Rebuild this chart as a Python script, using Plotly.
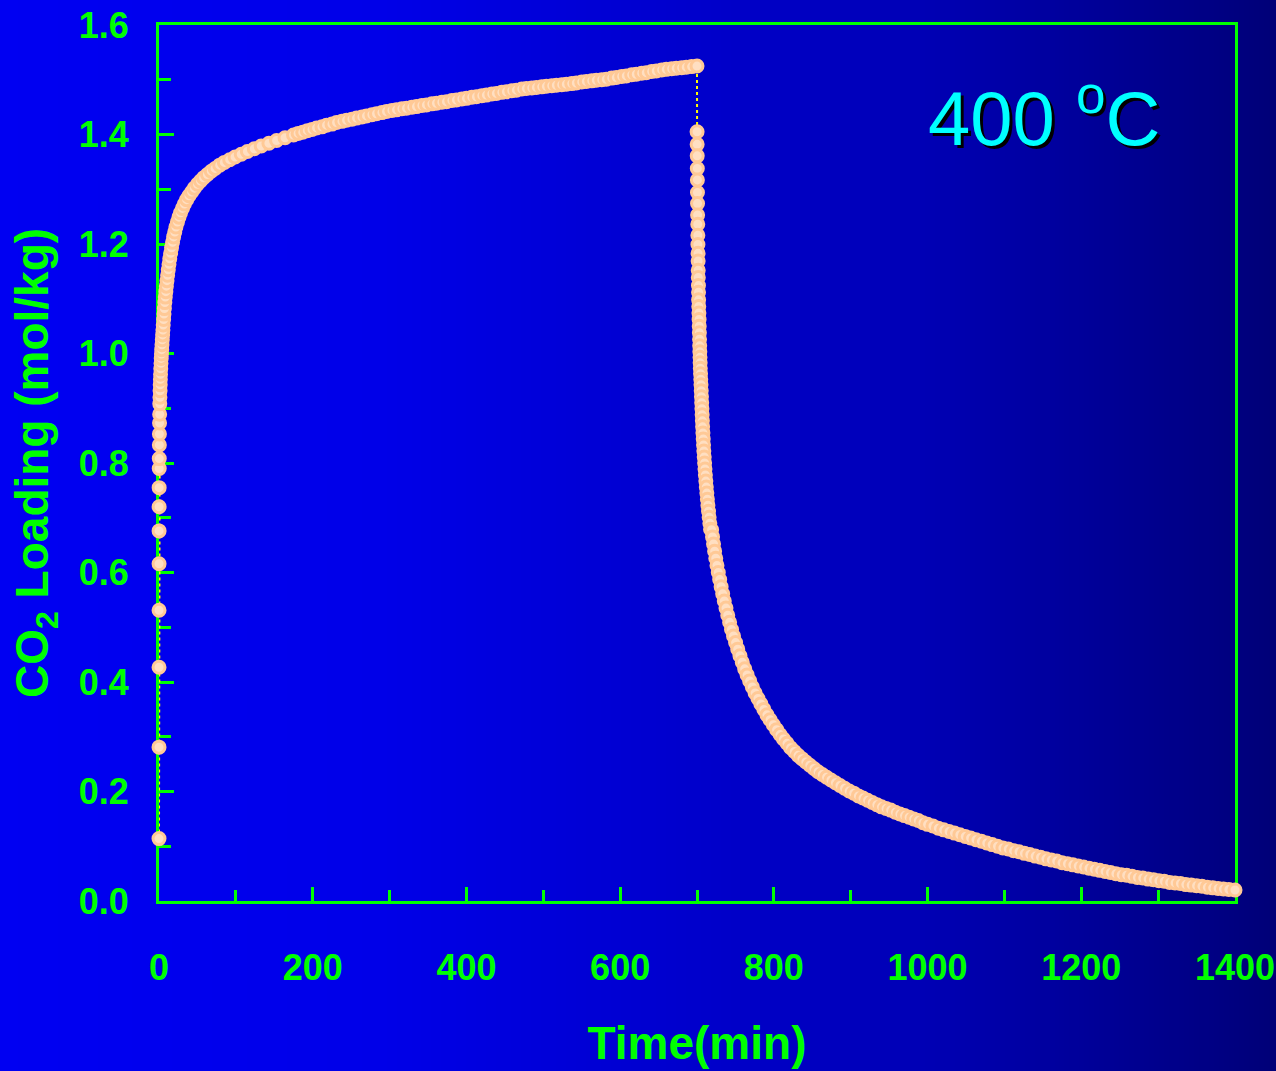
import plotly.graph_objects as go
import zlib, struct, base64

# ---------------- data ----------------
ads_time = [0, 0.02, 0.04, 0.06, 0.08, 0.1, 0.15, 0.2, 0.3, 0.35, 0.45, 0.55, 0.7, 0.85, 1.0,
            1.2, 1.4, 1.6, 1.8, 2.0, 2.3, 2.6, 2.9, 3.2, 3.5, 3.9, 4.3, 4.7, 5.1, 5.5, 6.0, 6.5,
            7.0, 7.6, 8.2, 8.9, 9.6, 10.4, 11.2, 12.1, 13.0, 14.0, 15.1, 16.3, 17.6, 19, 20.5,
            22, 24, 26, 28, 30.5, 33, 36, 39, 42.5, 46, 50, 54, 58, 63, 68, 73, 79, 85, 92, 99,
            107, 115, 124, 133, 143, 153, 164, 175, 181, 187, 193, 199, 205, 212, 218, 225, 231,
            238, 244, 251, 257, 264, 270, 277, 283, 290, 296, 303, 309, 316, 322, 329, 335, 342,
            348, 355, 361, 368, 374, 381, 387, 394, 400, 407, 413, 420, 426, 433, 439, 446, 452,
            459, 465, 472, 478, 485, 491, 498, 504, 511, 517, 524, 530, 537, 543, 550, 556, 563,
            569, 576, 582, 589, 595, 602, 608, 615, 621, 628, 634, 641, 647, 654, 660, 667, 673,
            680, 686, 693, 700]
ads_load = [0.114, 0.281, 0.427, 0.531, 0.616, 0.676, 0.720, 0.755, 0.790, 0.808, 0.833, 0.853,
            0.873, 0.889, 0.908, 0.920, 0.932, 0.943, 0.953, 0.962, 0.972, 0.982, 0.991, 0.999,
            1.007, 1.016, 1.025, 1.034, 1.043, 1.052, 1.062, 1.072, 1.082, 1.093, 1.103, 1.113,
            1.123, 1.133, 1.143, 1.153, 1.163, 1.173, 1.183, 1.193, 1.203, 1.213, 1.222, 1.231,
            1.240, 1.249, 1.257, 1.265, 1.273, 1.281, 1.288, 1.295, 1.302, 1.309, 1.315, 1.321,
            1.327, 1.333, 1.338, 1.344, 1.349, 1.354, 1.359, 1.364, 1.369, 1.374, 1.379, 1.384,
            1.389, 1.394, 1.399, 1.402, 1.404, 1.407, 1.409, 1.412, 1.414, 1.417, 1.419, 1.422,
            1.424, 1.426, 1.428, 1.430, 1.432, 1.434, 1.436, 1.438, 1.440, 1.442, 1.444, 1.445,
            1.447, 1.448, 1.450, 1.451, 1.453, 1.454, 1.456, 1.457, 1.459, 1.460, 1.462, 1.463,
            1.465, 1.466, 1.468, 1.469, 1.471, 1.472, 1.474, 1.475, 1.477, 1.478, 1.480, 1.481,
            1.483, 1.484, 1.485, 1.486, 1.487, 1.488, 1.489, 1.490, 1.491, 1.492, 1.493, 1.494,
            1.496, 1.497, 1.498, 1.499, 1.500, 1.501, 1.503, 1.504, 1.506, 1.507, 1.509, 1.510,
            1.512, 1.513, 1.515, 1.516, 1.518, 1.519, 1.520, 1.521, 1.522, 1.523, 1.524, 1.525]

des_time = [700.1, 700.2, 700.3, 700.4, 700.5, 700.6, 700.7, 700.8, 701.0, 701.1, 701.2, 701.4,
            701.5, 701.6, 701.7, 701.9, 702.0, 702.1, 702.3, 702.5, 702.7, 702.9, 703.1, 703.3,
            703.5, 703.7, 703.9, 704.1, 704.3, 704.6, 704.9, 705.2, 705.5, 705.8, 706.1, 706.4,
            706.7, 707.0, 707.3, 707.7, 708.1, 708.5, 708.9, 709.4, 709.9, 710.4, 710.9, 711.5,
            712.1, 712.8, 713.5, 714.2, 715.0, 715.8, 716.7, 717.6, 719.0, 720.2, 721.5, 722.9,
            724.4, 726.0, 727.7, 729.5, 731.4, 733.4, 735.5, 737.7, 740.0, 742.4, 744.9, 747.5,
            750.2, 753.0, 755.9, 758.9, 762.0, 765.2, 768.5, 772, 775.6, 779.3, 783.1, 787, 791,
            795.1, 799.3, 803.6, 808, 812.5, 817.1, 821.8, 826.6, 831.5, 836.5, 841.6, 846.8,
            852.1, 857.5, 863, 868.6, 874.3, 880.1, 886, 892, 898, 904, 910, 916, 922, 928, 934,
            940, 946, 952, 958, 964, 970, 976, 982, 988, 994, 1000, 1007, 1014, 1021, 1028, 1035,
            1042, 1049, 1056, 1063, 1070, 1077, 1084, 1091, 1098, 1105, 1112, 1119, 1126, 1133,
            1140, 1147, 1154, 1161, 1168, 1175, 1182, 1189, 1196, 1203, 1210, 1217, 1224, 1231,
            1238, 1245, 1252, 1259, 1266, 1273, 1280, 1287, 1294, 1301, 1308, 1315, 1322, 1329,
            1336, 1343, 1350, 1357, 1364, 1371, 1378, 1385, 1392, 1400]
des_load = [1.405, 1.382, 1.361, 1.338, 1.317, 1.294, 1.274, 1.253, 1.236, 1.216, 1.199, 1.183,
            1.169, 1.152, 1.139, 1.124, 1.112, 1.098, 1.086, 1.074, 1.062, 1.050, 1.038, 1.026,
            1.014, 1.003, 0.993, 0.983, 0.973, 0.963, 0.953, 0.943, 0.932, 0.921, 0.910, 0.899,
            0.888, 0.877, 0.866, 0.855, 0.844, 0.833, 0.822, 0.811, 0.800, 0.789, 0.778, 0.767,
            0.756, 0.745, 0.734, 0.723, 0.712, 0.701, 0.690, 0.679, 0.678, 0.665, 0.652, 0.639,
            0.626, 0.613, 0.600, 0.587, 0.574, 0.561, 0.548, 0.535, 0.522, 0.509, 0.496, 0.484,
            0.472, 0.460, 0.448, 0.436, 0.424, 0.413, 0.402, 0.391, 0.380, 0.370, 0.360, 0.350,
            0.340, 0.331, 0.322, 0.313, 0.304, 0.296, 0.288, 0.280, 0.273, 0.266, 0.260, 0.254,
            0.248, 0.242, 0.236, 0.231, 0.226, 0.221, 0.216, 0.211, 0.206, 0.201, 0.197, 0.192,
            0.188, 0.184, 0.180, 0.176, 0.172, 0.169, 0.166, 0.162, 0.159, 0.156, 0.153, 0.150,
            0.147, 0.143, 0.140, 0.137, 0.133, 0.130, 0.127, 0.124, 0.121, 0.118, 0.115, 0.112,
            0.109, 0.106, 0.103, 0.100, 0.097, 0.095, 0.092, 0.090, 0.087, 0.085, 0.082, 0.080,
            0.077, 0.075, 0.073, 0.070, 0.068, 0.066, 0.064, 0.062, 0.060, 0.058, 0.056, 0.054,
            0.052, 0.050, 0.048, 0.047, 0.045, 0.043, 0.042, 0.040, 0.039, 0.037, 0.036, 0.034,
            0.033, 0.032, 0.030, 0.029, 0.028, 0.027, 0.025, 0.024, 0.023, 0.022, 0.021, 0.020]

x_tickvals = [0, 200, 400, 600, 800, 1000, 1200, 1400]
y_tickvals = [0.0, 0.2, 0.4, 0.6, 0.8, 1.0, 1.2, 1.4, 1.6]
y_ticktext = ["0.0", "0.2", "0.4", "0.6", "0.8", "1.0", "1.2", "1.4", "1.6"]

time_min = ads_time + des_time
loading = ads_load + des_load

# ---------------- background gradient image ----------------
W, H = 1276, 1071
L, R, T, B = 159, 41, 25, 170
PW, PH = W - L - R, H - T - B

stops = [(0.0, 242), (0.3, 232), (0.58, 200), (0.72, 182), (0.97, 128), (1.0, 120)]
def blue_at(f):
    for (a, va), (b, vb) in zip(stops[:-1], stops[1:]):
        if a <= f <= b:
            return int(round(va + (vb - va) * (f - a) / (b - a)))
    return stops[-1][1]

NPX = 256
row = bytearray([0])
for i in range(NPX):
    row += bytes([0, 0, blue_at(i / (NPX - 1))])
def chunk(tag, data):
    c = struct.pack(">I", len(data)) + tag + data
    return c + struct.pack(">I", zlib.crc32(tag + data) & 0xffffffff)
png = b"\x89PNG\r\n\x1a\n" + chunk(b"IHDR", struct.pack(">IIBBBBB", NPX, 1, 8, 2, 0, 0, 0)) \
      + chunk(b"IDAT", zlib.compress(bytes(row))) + chunk(b"IEND", b"")
bg_uri = "data:image/png;base64," + base64.b64encode(png).decode()

GREEN = "#00FF00"
tick_font = dict(family="Liberation Sans Narrow, Arial Narrow, Liberation Sans, Arial",
                 size=36, color=GREEN, weight="bold")

fig = go.Figure()
fig.add_trace(go.Scatter(
    x=time_min, y=loading, mode="lines+markers",
    line=dict(color="#FFFF00", width=2, dash="dot"),
    marker=dict(size=12, color="#FFDFC2", line=dict(color="#FFC996", width=3)),
    cliponaxis=False, showlegend=False,
))

fig.update_layout(
    width=W, height=H,
    margin=dict(l=L, r=R, t=T, b=B, autoexpand=False),
    paper_bgcolor="#0000C8",
    plot_bgcolor="rgba(0,0,0,0)",
    images=[dict(source=bg_uri, xref="paper", yref="paper",
                 x=-L / PW, y=1 + T / PH, sizex=W / PW, sizey=H / PH,
                 xanchor="left", yanchor="top", sizing="stretch", layer="below")],
    xaxis=dict(range=[0, 1400], tickvals=x_tickvals, ticks="inside", ticklen=14, tickwidth=2.5,
               tickcolor=GREEN, showline=True, linecolor=GREEN, linewidth=3, mirror=True,
               showgrid=False, zeroline=False, tickfont=tick_font, ticklabelstandoff=33,
               ticklabeloverflow="allow", layer="below traces",
               minor=dict(dtick=100, ticks="inside", ticklen=11, tickwidth=2.5, tickcolor=GREEN,
                          showgrid=False),
               title=dict(text="Time(min)", standoff=40,
                          font=dict(family="Liberation Sans, Arial", size=46, color=GREEN,
                                    weight="bold"))),
    yaxis=dict(range=[0, 1.6], tickvals=y_tickvals, ticktext=y_ticktext, ticks="inside",
               ticklen=15, tickwidth=3, tickcolor=GREEN, showline=True, linecolor=GREEN,
               linewidth=3, mirror=True, showgrid=False, zeroline=False, tickfont=tick_font,
               ticklabelstandoff=20, ticklabeloverflow="allow", layer="below traces",
               minor=dict(dtick=0.1, ticks="inside", ticklen=12, tickwidth=3, tickcolor=GREEN,
                          showgrid=False),
               title=dict(text="CO<sub>2</sub> Loading (mol/kg)", standoff=16,
                          font=dict(family="Liberation Sans, Arial", size=46, color=GREEN,
                                    weight="bold"))),
    annotations=[dict(text="400 <sup>o</sup>C", xref="x", yref="y", x=1305, y=1.44,
                      showarrow=False, xanchor="right",
                      font=dict(family="Liberation Sans, Arial", size=76, color="#00FFFF",
                                shadow="3px 3px 0px #000000"))],
)

fig.write_html("out.html")
